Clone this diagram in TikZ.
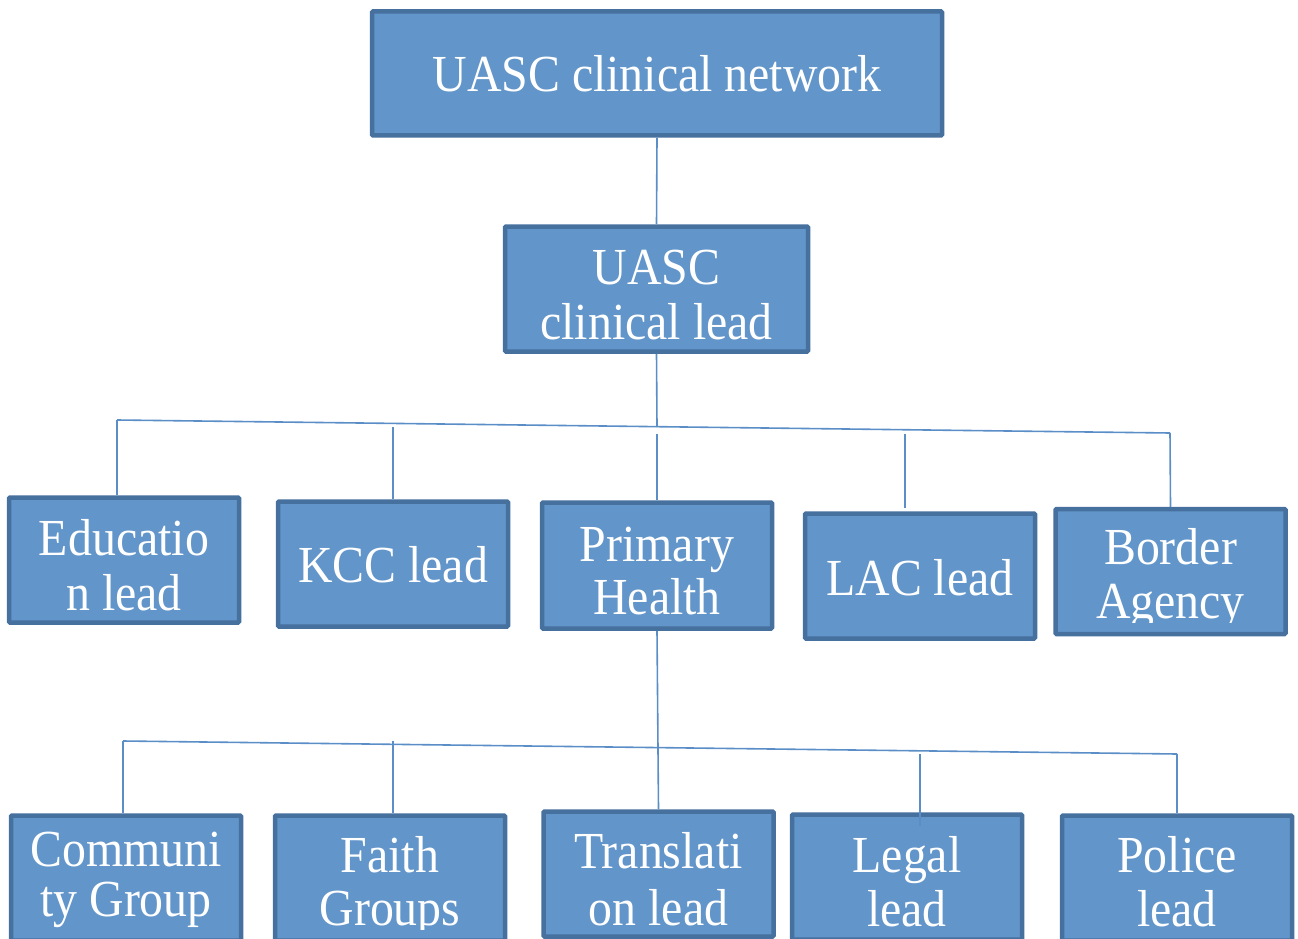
\documentclass[tikz,border=0pt]{standalone}
\usepackage{fontspec}
\setmainfont{Liberation Serif}[FakeStretch=0.92]
\usetikzlibrary{calc}
\definecolor{boxfill}{RGB}{98,149,201}
\definecolor{boxline}{RGB}{70,112,158}
\definecolor{conn}{RGB}{91,141,199}
\begin{document}
\begin{tikzpicture}[x=1pt,y=-1pt,
  orgbox/.style={draw=boxline, fill=boxfill, line width=4.5pt, rounded corners=1pt,
    inner sep=0pt, minimum width=230pt, minimum height=125pt},
  boxtext/.style={text=white, align=center, inner sep=0pt,
    font=\fontsize{52}{#1}\selectfont},
  boxtext/.default=55,
  conline/.style={draw=conn, line width=1.6pt}]
\useasboundingbox (0,0) rectangle (1298,939);
% top levels
\node[orgbox, minimum width=570pt, minimum height=124pt] (net) at (657,73.5) {};
\node[boxtext] (net-t) at (net) {UASC clinical network};
\node[orgbox, minimum width=303pt, minimum height=125pt] (lead) at (656.5,289) {};
\node[boxtext, yshift=-6pt] (lead-t) at (lead) {UASC\\clinical lead};
% third row
\node[orgbox] (edu) at (124,560) {};
\node[orgbox] (kcc) at (393,564) {};
\node[orgbox, minimum height=126pt] (prim) at (657,565.5) {};
\node[orgbox] (lac) at (920,576) {};
\node[orgbox] (bord) at (1170.5,571.5) {};
\node[boxtext, yshift=-5pt] (edu-t) at (edu) {Educatio\\n lead};
\node[boxtext, yshift=-1pt] (kcc-t) at (kcc) {KCC lead};
\node[boxtext=53, yshift=-5.5pt] (prim-t) at (prim) {Primary\\Health};
\node[boxtext, yshift=-2pt] (lac-t) at (lac) {LAC lead};
\begin{scope}
  \clip (1053,506) rectangle (1288,622);
  \node[boxtext=54, yshift=-7.4pt] (bord-t) at (bord) {Border\\Agency};
\end{scope}
% fourth row
\node[orgbox] (comm) at (126,878) {};
\node[orgbox] (faith) at (390,878) {};
\node[orgbox] (trans) at (658.5,874) {};
\node[orgbox] (legal) at (907,877) {};
\node[orgbox] (pol) at (1177,878) {};
\begin{scope}
  \clip (0,800) rectangle (1298,929.5);
  \node[boxtext=50, yshift=-2pt] (comm-t) at (comm) {Communi\\ty Group};
  \node[boxtext=53, yshift=-8.4pt] (faith-t) at (faith) {Faith\\Groups};
  \node[boxtext=57, yshift=-5pt] (trans-t) at (trans) {Translati\\on lead};
  \node[boxtext=54, yshift=-4.5pt] (legal-t) at (legal) {Legal\\lead};
  \node[boxtext=54, yshift=-3.5pt] (pol-t) at (pol) {Police\\lead};
\end{scope}
% connectors level 1-2
\draw[conline] (net.south) -- (lead.north);
\coordinate (b1L) at (117,420);
\coordinate (b1R) at (1170,433);
\coordinate (b1M) at (657,427);
\draw[conline] (lead.south) -- (b1M);
\draw[conline] (b1L) -- (b1R);
\draw[conline] (b1L) -- (b1L |- edu.north);
\coordinate (b1k) at (393,427);
\draw[conline] (b1k) -- (kcc.north);
\coordinate (b1p) at (657,434);
\draw[conline] (b1p) -- (prim.north);
\coordinate (b1l) at (905,434);
\draw[conline] (b1l) -- ($(b1l |- lac.north)+(0,-3)$);
\draw[conline] (b1R) -- (bord.north);
% connectors level 3-4
\coordinate (b2L) at (123,741);
\coordinate (b2R) at (1177,754);
\draw[conline] (prim.south) -- (trans.north);
\draw[conline] (b2L) -- (b2R);
\draw[conline] (b2L) -- (b2L |- comm.north);
\coordinate (b2f) at (393,741);
\draw[conline] (b2f) -- (b2f |- faith.north);
\coordinate (b2g) at (920,754);
\draw[conline] (b2g) -- ($(b2g |- legal.north)+(0,14)$);
\draw[conline] (b2R) -- (pol.north);
\end{tikzpicture}
\end{document}
